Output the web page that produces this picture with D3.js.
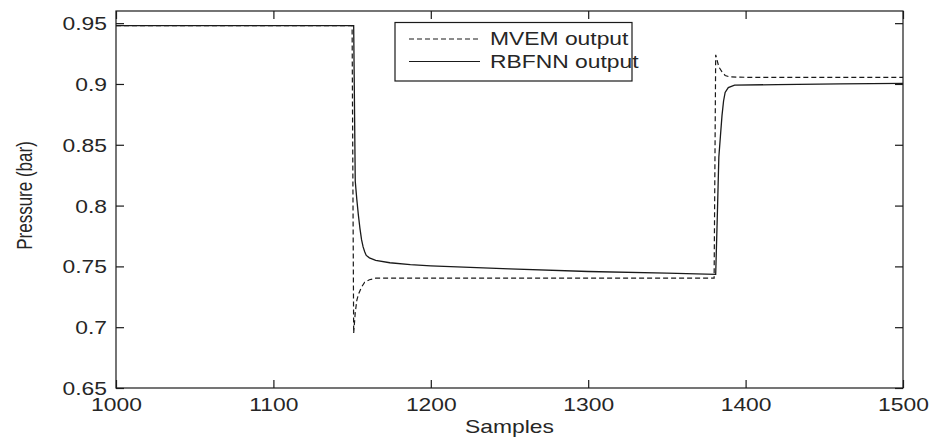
<!DOCTYPE html>
<html><head><meta charset="utf-8">
<script src="https://cdn.jsdelivr.net/npm/d3@7"></script>
<style>
html,body{margin:0;padding:0;background:#fff;}
text{font-family:"Liberation Sans",Arial,sans-serif;fill:#262626;}
</style></head>
<body>
<svg id="chart" width="939" height="439"></svg>
<script>
// ---- data ----
const xTicks = [1000, 1100, 1200, 1300, 1400, 1500];
const yTicks = [0.65, 0.7, 0.75, 0.8, 0.85, 0.9, 0.95];
const yTickLabels = ["0.65", "0.7", "0.75", "0.8", "0.85", "0.9", "0.95"];

const mvemSamples = [1000, 1150, 1151, 1152, 1153, 1154, 1156, 1158, 1161, 1165, 1380, 1381, 1382, 1383, 1385, 1387, 1390, 1400, 1500];
const mvemValues  = [0.948, 0.948, 0.695, 0.712, 0.722, 0.727, 0.733, 0.737, 0.739, 0.7403, 0.7403, 0.924, 0.919, 0.914, 0.910, 0.907, 0.9058, 0.9055, 0.9055];

const rbfSamples = [1000, 1151, 1152, 1153, 1154, 1155, 1156, 1157, 1158, 1159, 1161, 1165, 1174, 1187, 1200, 1250, 1300, 1350, 1381, 1382, 1383, 1384, 1385, 1386, 1387, 1389, 1393, 1420, 1460, 1500];
const rbfValues  = [0.948, 0.948, 0.82, 0.805, 0.792, 0.781, 0.772, 0.766, 0.762, 0.759, 0.757, 0.755, 0.753, 0.7515, 0.7505, 0.748, 0.7458, 0.7445, 0.7435, 0.79, 0.84, 0.857, 0.874, 0.886, 0.893, 0.897, 0.899, 0.8995, 0.900, 0.9005];

const seriesNames = ["MVEM output", "RBFNN output"];
const xLabel = "Samples";
const yLabel = "Pressure (bar)";

// ---- layout ----
const svg = d3.select("#chart");
const L = 116, R = 903, T = 11, B = 388;
const SX = 1.27;       // horizontal stretch of the text in the reference
const FS = 18;
const tickLen = 8;
const ink = "#1a1a1a";

const x = d3.scaleLinear().domain([1000, 1500]).range([L, R]);
const y = d3.scaleLinear().domain([0.65, 0.96]).range([B, T]);

// frame
svg.append("rect").attr("x", L).attr("y", T).attr("width", R - L).attr("height", B - T)
  .attr("fill", "none").attr("stroke", ink).attr("stroke-width", 1.2);

// axes (ticks inward)
const gB = svg.append("g").attr("transform", `translate(0,${B})`)
  .call(d3.axisBottom(x).tickValues(xTicks).tickSize(-tickLen).tickPadding(0).tickFormat(d3.format("d")));
const gT = svg.append("g").attr("transform", `translate(0,${T})`)
  .call(d3.axisTop(x).tickValues(xTicks).tickSize(-tickLen).tickFormat(""));
const gL = svg.append("g").attr("transform", `translate(${L},0)`)
  .call(d3.axisLeft(y).tickValues(yTicks).tickSize(-tickLen).tickFormat((d, i) => yTickLabels[i]));
const gR = svg.append("g").attr("transform", `translate(${R},0)`)
  .call(d3.axisRight(y).tickValues(yTicks).tickSize(-tickLen).tickFormat(""));

[gB, gT, gL, gR].forEach(g => {
  g.select(".domain").remove();
  g.selectAll(".tick line").attr("stroke", ink).attr("stroke-width", 1.2);
});
gB.selectAll(".tick text").attr("font-size", FS).attr("fill", "#262626")
  .attr("y", 23).attr("dy", null).attr("transform", `scale(${SX},1)`);
gL.selectAll(".tick text").attr("font-size", FS).attr("fill", "#262626")
  .attr("x", -9 / SX).attr("dy", "0.36em").attr("transform", `scale(${SX},1)`);

// axis titles
svg.append("text").attr("transform", `translate(${(L + R) / 2},433) scale(${SX},1)`)
  .attr("text-anchor", "middle").attr("font-size", FS).text(xLabel);
svg.append("text").attr("transform", `translate(32,${(T + B) / 2 - 4}) scale(${SX},1) rotate(-90)`)
  .attr("text-anchor", "middle").attr("font-size", FS - 1).text(yLabel);

// series
const line = d3.line().x(d => x(d[0])).y(d => y(d[1]));
const mvem = mvemSamples.map((s, i) => [s, mvemValues[i]]);
const rbf = rbfSamples.map((s, i) => [s, rbfValues[i]]);

svg.append("path").datum(mvem).attr("d", line).attr("fill", "none")
  .attr("stroke", ink).attr("stroke-width", 1.2).attr("stroke-dasharray", "5,3");
svg.append("path").datum(rbf).attr("d", line).attr("fill", "none")
  .attr("stroke", ink).attr("stroke-width", 1.3);

// legend
const lg = svg.append("g");
lg.append("rect").attr("x", 395).attr("y", 22.5).attr("width", 237).attr("height", 58.5)
  .attr("fill", "#fff").attr("stroke", ink).attr("stroke-width", 1.2);
const rows = [39, 61.5];
const dashes = ["5,3", null];
seriesNames.forEach((name, i) => {
  lg.append("line").attr("x1", 409).attr("x2", 480).attr("y1", rows[i]).attr("y2", rows[i])
    .attr("stroke", ink).attr("stroke-width", 1.2).attr("stroke-dasharray", dashes[i]);
  lg.append("text").attr("transform", `translate(490,${rows[i]}) scale(${SX},1)`)
    .attr("dy", "0.36em").attr("font-size", FS).text(name);
});
</script>
</body></html>
